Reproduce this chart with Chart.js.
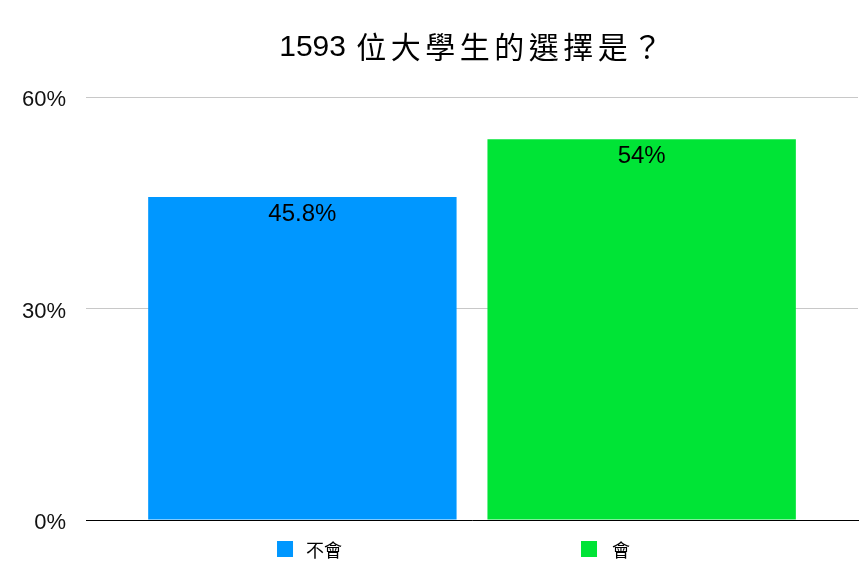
<!DOCTYPE html>
<html>
<head>
<meta charset="utf-8">
<script src="https://cdn.jsdelivr.net/npm/chart.js@4/dist/chart.umd.min.js"></script>
<style>
    html, body { margin: 0; padding: 0; background: #fff; }
    #wrap { width: 861px; height: 574px; }
</style>
</head>
<body>
<div id="wrap"><canvas id="grafica"></canvas></div>
<script>
const tituloNumero = '1593 '
const tituloTexto = '位大學生的選擇是？'
const categorias = ['']
const series = ['不會', '會']
const valores = [45.8, 54]
const colores = ['#0097FF', '#00E436']
const ticksY = [0, 30, 60]

const fuente = '"Liberation Sans", "Noto Sans CJK TC", sans-serif'
const fuenteCJK = '"Noto Sans CJK TC", sans-serif'

// Titulo, etiquetas de barras y leyenda dibujados a mano
const extras = {
    id: 'extras',
    afterDatasetsDraw(chart) {
        const ctx = chart.ctx
        const area = chart.chartArea
        const centro = (area.left + area.right) / 2
        ctx.save()

        // titulo en dos partes (numero + texto chino)
        ctx.fillStyle = '#000'
        ctx.textBaseline = 'middle'
        ctx.textAlign = 'left'
        ctx.font = '30px ' + fuente
        const anchoNum = ctx.measureText(tituloNumero).width
        ctx.font = '30px ' + fuenteCJK
        ctx.letterSpacing = '4.5px'
        const anchoTxt = ctx.measureText(tituloTexto).width
        const x0 = centro - (anchoNum + anchoTxt) / 2
        ctx.fillText(tituloTexto, x0 + anchoNum + 2, 47)
        ctx.letterSpacing = '0px'
        ctx.font = '30px ' + fuente
        ctx.fillText(tituloNumero, x0, 48)

        // etiquetas de valor
        ctx.textAlign = 'center'
        ctx.font = '24px ' + fuente
        chart.data.datasets.forEach((ds, i) => {
            const meta = chart.getDatasetMeta(i)
            meta.data.forEach((bar, j) => {
                ctx.fillText(ds.data[j] + '%', bar.x, bar.y + 17)
            })
        })

        // leyenda
        const posiciones = [-195, 109]
        ctx.font = '18px ' + fuenteCJK
        ctx.textAlign = 'left'
        chart.data.datasets.forEach((ds, i) => {
            const x = centro + posiciones[i]
            const y = area.bottom + 29
            ctx.fillStyle = ds.backgroundColor
            ctx.fillRect(x, y - 8, 16, 16)
            ctx.fillStyle = '#000'
            ctx.fillText(ds.label, x + 29 + (i === 1 ? 2 : 0), y + 1)
        })
        ctx.restore()
    }
}

new Chart(document.getElementById('grafica'), {
    type: 'bar',
    data: {
        labels: categorias,
        datasets: series.map((s, i) => ({
            label: s,
            data: [valores[i]],
            backgroundColor: colores[i],
            barPercentage: 0.909,
            categoryPercentage: 0.879
        }))
    },
    options: {
        responsive: true,
        maintainAspectRatio: false,
        animation: false,
        layout: { padding: { top: 97, left: 2, right: 3, bottom: 46 } },
        plugins: {
            legend: { display: false },
            title: { display: false },
            tooltip: { enabled: false }
        },
        scales: {
            x: {
                ticks: { display: false },
                grid: { display: false },
                border: { display: true, color: '#000', width: 1 }
            },
            y: {
                min: 0,
                max: 60,
                afterBuildTicks: axis => { axis.ticks = ticksY.map(v => ({ value: v })) },
                ticks: {
                    padding: 20,
                    labelOffset: 3,
                    color: '#111',
                    font: { family: fuente, size: 22 },
                    callback: v => v + '%'
                },
                grid: { color: '#c8c8c8', drawTicks: false },
                border: { display: false }
            }
        }
    },
    plugins: [extras]
})
</script>
</body>
</html>
